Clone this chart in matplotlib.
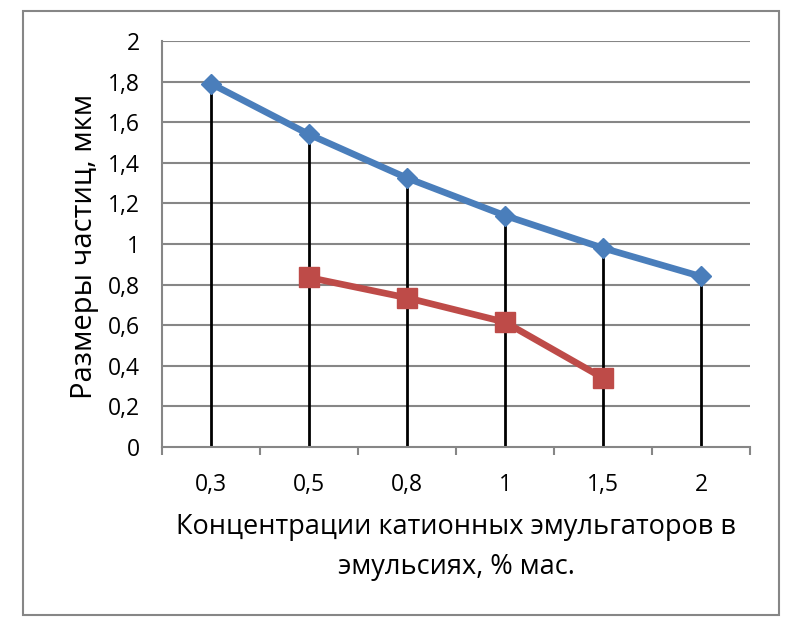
import numpy as np
import matplotlib.pyplot as plt
from matplotlib.patches import Rectangle

plt.rcParams.update({
    "font.family": ["Open Sans", "DejaVu Sans"],
    "font.size": 12,
})

# Data
categories = ["0,3", "0,5", "0,8", "1", "1,5", "2"]
series_blue = [1.79, 1.54, 1.325, 1.14, 0.98, 0.84]
series_red = [np.nan, 0.835, 0.735, 0.615, 0.34, np.nan]
y_ticks = [0, 0.2, 0.4, 0.6, 0.8, 1, 1.2, 1.4, 1.6, 1.8, 2]

x = np.arange(len(categories))
blue = np.array(series_blue)
red = np.array(series_red)

fig = plt.figure(figsize=(7.88, 6.17), dpi=100)
ax = fig.add_axes([162 / 788, 1 - 447 / 617, 588 / 788, 406 / 617])

# chart border
fig.patches.append(Rectangle((23 / 788, 1 - 615 / 617), 756 / 788, 604 / 617,
                             transform=fig.transFigure, fill=False,
                             edgecolor="#868686", linewidth=1.5))

# gridlines
for yv in y_ticks[1:]:
    ax.axhline(yv, color="#868686", linewidth=1.5, zorder=1)

# drop lines from the highest point down to the axis
tops = np.fmax(blue, red)
ax.vlines(x, 0, tops, color="black", linewidth=2, zorder=2)

ax.plot(x, blue, color="#4A7EBB", linewidth=4.8, marker="D", markersize=10,
        markerfacecolor="#4A7EBB", markeredgecolor="#4A7EBB", zorder=3)
ax.plot(x, red, color="#BE4B48", linewidth=4.8, marker="s", markersize=14.5,
        markerfacecolor="#BE4B48", markeredgecolor="#BE4B48", zorder=3)

ax.set_xlim(-0.5, len(categories) - 0.5)
ax.set_ylim(0, 2)
ax.set_yticks(y_ticks)
ax.set_yticklabels([f"{v:g}".replace(".", ",") for v in y_ticks], fontsize=16.5)
ax.set_xticks(x)
ax.set_xticklabels(categories, fontsize=16.5)
ax.tick_params(axis="x", length=0, pad=19)
ax.tick_params(axis="y", length=0, pad=16)
ax.set_xticks(np.arange(-0.5, len(categories)), minor=True)
ax.tick_params(axis="x", which="minor", direction="out", length=6,
               color="#868686", width=1.5)

for side in ["top", "right"]:
    ax.spines[side].set_visible(False)
for side in ["left", "bottom"]:
    ax.spines[side].set_color("#868686")
    ax.spines[side].set_linewidth(1.5)

fig.text(85 / 788, 1 - 246 / 617, "Размеры частиц, мкм", rotation=90,
         ha="center", va="center", fontsize=21)
fig.text(456 / 788, 1 - 547 / 617,
         "Концентрации катионных эмульгаторов в\nэмульсиях, % мас.",
         ha="center", va="center", fontsize=19.5, linespacing=1.55)

fig.savefig("out.png", dpi=100)
